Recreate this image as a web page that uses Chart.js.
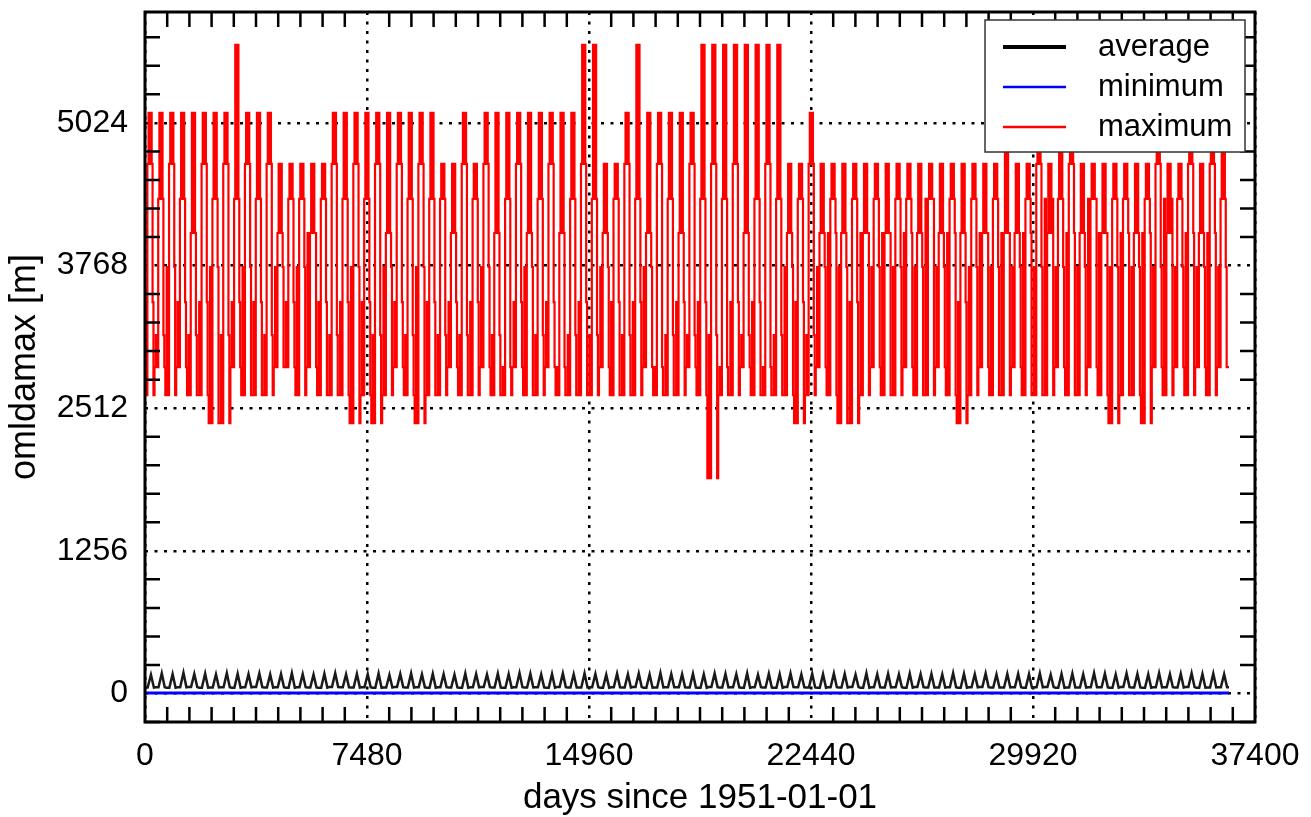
<!DOCTYPE html>
<html>
<head>
<meta charset="utf-8">
<script src="https://cdn.jsdelivr.net/npm/chart.js@4.4.0/dist/chart.umd.min.js"></script>
<style>
  html, body { margin: 0; padding: 0; background: #fff; }
  #wrap { width: 1311px; height: 817px; }
</style>
</head>
<body>
<div id="wrap"><canvas id="c" width="1311" height="817"></canvas></div>
<script>
// 坐标轴刻度
const xTicks = [0, 7480, 14960, 22440, 29920, 37400];
const yTicks = [0, 1256, 2512, 3768, 5024];

// maximum：每年的谷值、上升台阶、峰值、下降台阶 (m)，共 100 年
const maxTrough = [
  2626, 2873, 2626, 2873, 2626, 2626, 2380, 2380, 2873, 2626,
  2626, 2626, 2873, 2873, 2626, 2873, 2626, 2626, 2626, 2380,
  2626, 2380, 2626, 2873, 2626, 2380, 2626, 2626, 2873, 2626,
  2626, 2873, 2626, 2626, 2873, 2626, 2626, 2873, 2626, 2626,
  2626, 2626, 2873, 2626, 2626, 2626, 2873, 2626, 2626, 2626,
  2873, 2626, 1895, 2626, 2626, 2873, 2626, 2626, 2626, 2626,
  2380, 2626, 2873, 2626, 2380, 2380, 2626, 2873, 2626, 2626,
  2873, 2626, 2626, 2873, 2626, 2380, 2626, 2873, 2626, 2626,
  2873, 2626, 2626, 2626, 2873, 2626, 2626, 2873, 2626, 2380,
  2626, 2626, 2380, 2873, 2626, 2873, 2626, 2873, 2626, 2873
];
const maxRise = [
  3446, 3155, 3755, 3446, 3155, 3446, 3755, 3155, 3446, 3755,
  3446, 3155, 3755, 3446, 3755, 4054, 3446, 3155, 3446, 3755,
  3446, 3155, 3755, 3446, 3155, 3755, 3446, 3155, 3446, 3155,
  3446, 3755, 3155, 2873, 3446, 3755, 3155, 3446, 2873, 3155,
  3446, 3155, 3755, 3446, 3155, 3446, 3755, 2873, 3155, 3446,
  3155, 3446, 3155, 2873, 3446, 3155, 3446, 2873, 3155, 3755,
  3446, 3155, 3755, 4054, 3755, 3446, 4054, 3755, 4054, 3755,
  4054, 3755, 4354, 3755, 4054, 3446, 3755, 4054, 3755, 4054,
  3755, 4054, 3755, 4354, 3755, 4054, 3755, 4354, 4054, 3755,
  4054, 3755, 4054, 3755, 4354, 3755, 4054, 3755, 4054, 3755
];
const maxPeak = [
  5112, 5112, 5112, 5112, 5112, 5112, 5112, 5112, 5711, 5112,
  5112, 5112, 4662, 4662, 4662, 4662, 4662, 5112, 5112, 5112,
  5112, 5112, 5112, 5112, 5112, 5112, 5112, 4662, 4662, 5112,
  4662, 5112, 5112, 5112, 5112, 5112, 5112, 5112, 5112, 5112,
  5711, 5711, 4662, 4662, 5112, 5711, 5112, 5112, 5112, 5112,
  5112, 5711, 5711, 5711, 5711, 5711, 5711, 5711, 5711, 4662,
  4662, 5112, 4662, 4662, 4662, 4662, 4662, 4662, 4662, 4662,
  4662, 4662, 4662, 4662, 4662, 4662, 4662, 4662, 4662, 5112,
  4662, 4662, 5112, 4662, 5112, 5112, 4662, 4662, 4662, 4662,
  4662, 4662, 4662, 5112, 4662, 4662, 5112, 4662, 5112, 5112
];
const maxFall = [
  4662, 4354, 4662, 4354, 4054, 4662, 4354, 4662, 4354, 4662,
  4354, 4662, 4054, 4354, 4354, 4054, 4354, 4662, 4354, 4662,
  4354, 4662, 4054, 4662, 4354, 4662, 4354, 4354, 4054, 4662,
  4354, 4662, 4054, 4354, 4662, 4054, 4354, 4662, 4054, 4354,
  4662, 4354, 4054, 4354, 4662, 4354, 4054, 4662, 4354, 4054,
  4662, 4354, 4662, 4354, 4662, 4054, 4354, 4662, 4354, 4054,
  4354, 4662, 4054, 4354, 4054, 4354, 4054, 4354, 4054, 4354,
  4354, 4054, 4354, 4054, 4354, 4054, 4354, 4054, 4354, 4054,
  4054, 4354, 4662, 4054, 4354, 4662, 4054, 4354, 4054, 4354,
  4354, 4054, 4354, 4662, 4054, 4354, 4662, 4054, 4662, 4354
];

// average：每年的谷值和峰值 (m)
const avgTrough = [
  52, 55, 50, 54, 56, 51, 53, 55, 50, 54,
  56, 52, 54, 50, 55, 53, 51, 56, 54, 52,
  55, 50, 53, 56, 52, 54, 51, 55, 53, 50,
  54, 56, 52, 50, 55, 53, 54, 51, 56, 52,
  53, 55, 50, 54, 52, 56, 51, 53, 55, 54,
  52, 50, 56, 53, 54, 51, 55, 52, 50, 56,
  54, 53, 51, 55, 52, 56, 50, 54, 53, 55,
  51, 56, 53, 52, 55, 50, 54, 56, 52, 53,
  55, 51, 54, 56, 50, 53, 52, 55, 54, 51,
  56, 53, 50, 54, 55, 52, 56, 51, 53, 54
];
const avgPeak = [
  165, 178, 170, 182, 172, 176, 168, 180, 174, 170,
  176, 168, 172, 180, 170, 166, 174, 178, 168, 172,
  170, 176, 164, 172, 178, 168, 174, 170, 166, 176,
  172, 168, 176, 170, 180, 174, 168, 172, 176, 170,
  178, 172, 166, 174, 170, 176, 168, 180, 172, 170,
  174, 168, 176, 172, 170, 178, 166, 174, 170, 176,
  168, 174, 170, 176, 172, 166, 178, 170, 174, 168,
  176, 170, 172, 168, 180, 174, 170, 176, 168, 172,
  174, 170, 178, 166, 172, 176, 170, 180, 174, 168,
  176, 172, 168, 180, 170, 174, 178, 172, 176, 170
];

// minimum：几乎为常数
const minDays = [0, 36525];
const minValues = [5, 5];

const DAYS_PER_YEAR = 365.25;
// 每年内各台阶开始的日序：谷 上升 谷 下降 峰 下降 峰 下降 上升 谷
const maxSeasonDays = [0, 40, 80, 120, 150, 200, 225, 255, 285, 320];
const avgSeasonDays = [0, 90, 200, 300];

function buildMaxPoints() {
  const pts = [];
  for (let i = 0; i < maxPeak.length; i++) {
    const t0 = i * DAYS_PER_YEAR;
    const T = maxTrough[i], R = maxRise[i], P = maxPeak[i], F = maxFall[i];
    const levels = [T, R, T, F, P, F, P, F, R, T];
    levels.forEach((v, k) => pts.push({ x: t0 + maxSeasonDays[k], y: v }));
  }
  pts.push({ x: maxPeak.length * DAYS_PER_YEAR, y: maxTrough[maxTrough.length - 1] });
  return pts;
}

function buildAvgPoints() {
  const pts = [];
  for (let i = 0; i < avgPeak.length; i++) {
    const t0 = i * DAYS_PER_YEAR;
    const vals = [avgTrough[i], avgTrough[i], avgPeak[i], avgTrough[i]];
    vals.forEach((v, k) => pts.push({ x: t0 + avgSeasonDays[k], y: v }));
  }
  pts.push({ x: avgPeak.length * DAYS_PER_YEAR, y: avgTrough[avgTrough.length - 1] });
  return pts;
}

const FONT = '"Liberation Sans", Arial, Helvetica, sans-serif';
Chart.defaults.font.family = FONT;
Chart.defaults.color = '#000';

// 边框、内向小刻度和图例
const framePlugin = {
  id: 'frame',
  afterDatasetsDraw(chart) {
    const { ctx, chartArea: a, scales } = chart;
    const xs = scales.x, ys = scales.y;
    const tick = 15;
    ctx.save();
    ctx.strokeStyle = '#000';
    ctx.lineWidth = 2.5;
    ctx.beginPath();
    for (let k = 1; k < 50; k++) {
      if (k % 10 === 0) continue;
      const px = xs.getPixelForValue(k * 748);
      if (px > a.right) break;
      ctx.moveTo(px, a.bottom); ctx.lineTo(px, a.bottom - tick);
      ctx.moveTo(px, a.top); ctx.lineTo(px, a.top + tick);
    }
    for (let k = -1; k < 30; k++) {
      if (k % 5 === 0) continue;
      const py = ys.getPixelForValue(k * 251.2);
      if (py < a.top) break;
      ctx.moveTo(a.left, py); ctx.lineTo(a.left + tick, py);
      ctx.moveTo(a.right, py); ctx.lineTo(a.right - tick, py);
    }
    ctx.stroke();
    ctx.lineWidth = 3;
    ctx.strokeRect(a.left, a.top, a.right - a.left, a.bottom - a.top);

    // 图例
    const bx = a.right - 270, by = a.top + 8, bw = 260, bh = 132;
    ctx.fillStyle = '#fff';
    ctx.fillRect(bx, by, bw, bh);
    ctx.strokeStyle = '#333';
    ctx.lineWidth = 1.5;
    ctx.strokeRect(bx, by, bw, bh);
    const widths = [4, 2.5, 2.5];
    ctx.font = '31px ' + FONT;
    ctx.textBaseline = 'middle';
    ctx.textAlign = 'left';
    chart.data.datasets.forEach((ds, i) => {
      const ry = by + 27 + i * 40;
      ctx.strokeStyle = i === 0 ? '#000' : ds.borderColor;
      ctx.lineWidth = widths[i];
      ctx.beginPath();
      ctx.moveTo(bx + 18, ry); ctx.lineTo(bx + 81, ry);
      ctx.stroke();
      ctx.fillStyle = '#000';
      ctx.fillText(ds.label, bx + 113, ry);
    });
    ctx.restore();
  }
};

const ctx = document.getElementById('c').getContext('2d');
new Chart(ctx, {
  type: 'line',
  data: {
    datasets: [
      { label: 'average', data: buildAvgPoints(), borderColor: '#1a1a1a', borderWidth: 2.5, pointRadius: 0, tension: 0 },
      { label: 'minimum', data: minDays.map((d, i) => ({ x: d, y: minValues[i] })), borderColor: '#0000ff', borderWidth: 3, pointRadius: 0 },
      { label: 'maximum', data: buildMaxPoints(), borderColor: '#ff0000', borderWidth: 2.2, pointRadius: 0, stepped: 'after' }
    ]
  },
  options: {
    responsive: false,
    animation: false,
    parsing: false,
    normalized: true,
    layout: { padding: { top: 12, right: 56, left: 0, bottom: 0 } },
    plugins: {
      legend: { display: false },
      tooltip: { enabled: false }
    },
    scales: {
      x: {
        type: 'linear',
        min: 0,
        max: 37400,
        afterBuildTicks: (s) => { s.ticks = xTicks.map(v => ({ value: v })); },
        afterFit: (s) => { s.height = 95; s.paddingLeft = 0; s.paddingRight = 0; },
        ticks: {
          font: { size: 32 },
          padding: 15,
          maxRotation: 0,
          autoSkip: false,
          callback: (v) => String(v)
        },
        grid: { color: '#000', lineWidth: 2.5, drawTicks: false },
        border: { display: false, dash: [3, 6.5] },
        title: {
          display: true,
          text: 'days since 1951-01-01',
          font: { size: 35 },
          padding: { top: 0, bottom: -2 }
        }
      },
      y: {
        type: 'linear',
        min: -251.2,
        max: 6000,
        afterBuildTicks: (s) => { s.ticks = yTicks.map(v => ({ value: v })); },
        afterFit: (s) => { s.width = 145; s.paddingTop = 0; s.paddingBottom = 0; },
        ticks: {
          font: { size: 32 },
          padding: 17,
          autoSkip: false,
          callback: (v) => String(v)
        },
        grid: { color: '#000', lineWidth: 2.5, drawTicks: false },
        border: { display: false, dash: [3, 6.5] },
        title: {
          display: true,
          text: 'omldamax [m]',
          font: { size: 36 },
          padding: { top: 3, bottom: 0 }
        }
      }
    }
  },
  plugins: [framePlugin]
});
</script>
</body>
</html>
